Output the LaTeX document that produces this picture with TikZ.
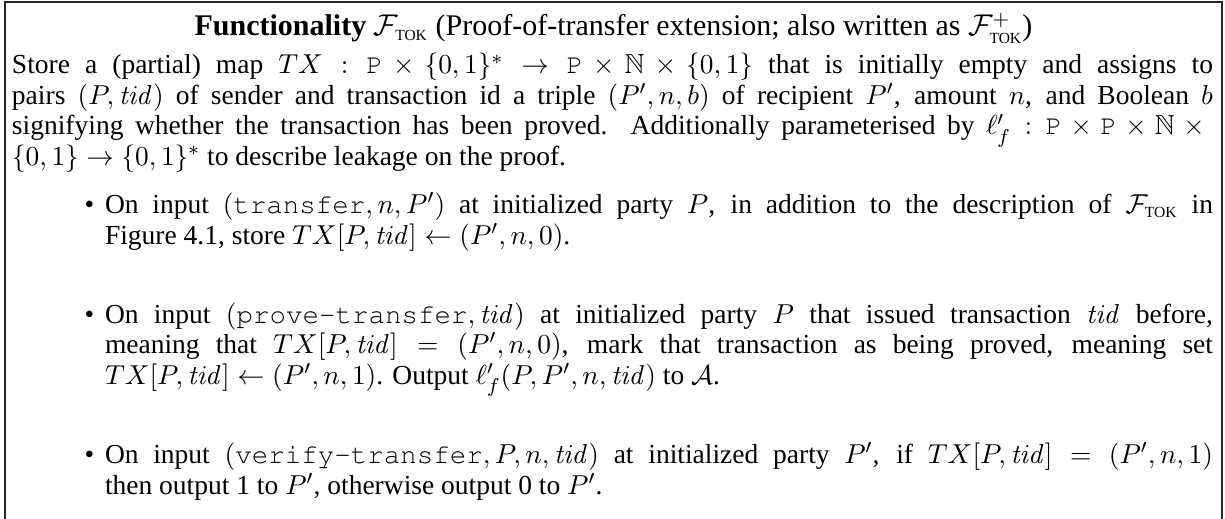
\documentclass[tikz,border=0pt]{standalone}
\usepackage{amsmath,amssymb}
\usepackage[no-math]{fontspec}
\setmainfont{Liberation Serif}
% typewriter words in Courier
\newcommand\cour[1]{{\fontencoding{OT1}\fontfamily{pcr}\selectfont #1}}
\newcommand\pty{\text{\cour{P}}}
\newcommand\cmd[1]{\text{\cour{#1}}}
\newcommand\tokname{\text{\fontsize{6.2pt}{7pt}\selectfont TOK}}
\newcommand\Ftok{\mathcal{F}_{\tokname}}
\newcommand\tid{\mathit{tid}}
% fixed baseline distance, no extra \lineskip, stretchier word spaces
\newcommand\bodyfont{\fontsize{11}{12.2}\selectfont\lineskiplimit=-\maxdimen
  \spaceskip=0.25em plus 0.22em minus 0.08em\relax}
\newcommand\headfont{\fontsize{12}{13}\selectfont}
\begin{document}
\begin{tikzpicture}[x=1pt,y=1pt,
  frame/.style={line width=0.6pt, draw=black!85},
  txt/.style={anchor=base west, inner sep=0pt, outer sep=0pt, text width=#1,
    align=justify, font=\bodyfont},
  head/.style={anchor=base, inner sep=0pt, font=\headfont},
  dot/.style={anchor=base west, inner sep=0pt, font=\bodyfont}]
\useasboundingbox (0,0) rectangle (490,-207.6);
% open frame: left, top and right sides
\draw[frame] (2,-207.6) -- (2,-0.8) -- (488.8,-0.8) -- (488.8,-207.6);
% title
\node[head] (title) at (245.4,-14.4)
  {\textbf{Functionality} $\Ftok$ (Proof-of-transfer extension; also written as $\mathcal{F}^{+}_{\tokname}$)};
% state description
\node[txt=480.4pt] (intro) at (4.8,-29.6)
  {Store a (partial) map $TX : \pty\times\{0,1\}^*\to\pty\times\mathbb{N}\times\{0,1\}$ that is initially empty and assigns to\linebreak
   pairs $(P,\tid)$ of sender and transaction id a triple $(P',n,b)$ of recipient $P'$, amount $n$, and Boolean $b$\linebreak
   signifying whether the transaction has been proved. Additionally parameterised by $\ell'_f : \pty\times\pty\times\mathbb{N}\times{}$\linebreak
   $\{0,1\}\to\{0,1\}^*$ to describe leakage on the proof.};
% transfer
\node[dot] (b1) at (33.6,-85.44) {\textbullet};
\node[txt=443.2pt] (i1) at (42,-85.44)
  {On input $(\cmd{transfer},n,P')$ at initialized party $P$, in addition to the description of $\Ftok$ in\linebreak
   Figure 4.1, store $TX[P,\tid]\leftarrow(P',n,0)$.};
% prove-transfer
\node[dot] (b2) at (33.6,-129.36) {\textbullet};
\node[txt=443.2pt] (i2) at (42,-129.36)
  {On input $(\cmd{prove-transfer},\tid)$ at initialized party $P$ that issued transaction $\tid$ before,\linebreak
   meaning that $TX[P,\tid] = (P',n,0)$, mark that transaction as being proved, meaning set\linebreak
   $TX[P,\tid]\leftarrow(P',n,1)$. Output $\ell'_f(P,P',n,\tid)$ to $\mathcal{A}$.};
% verify-transfer
\node[dot] (b3) at (33.6,-185.44) {\textbullet};
\node[txt=443.2pt] (i3) at (42,-185.44)
  {On input $(\cmd{verify-transfer},P,n,\tid)$ at initialized party $P'$, if $TX[P,\tid] = (P',n,1)$\linebreak
   then output 1 to $P'$, otherwise output 0 to $P'$.};
\end{tikzpicture}
\end{document}
